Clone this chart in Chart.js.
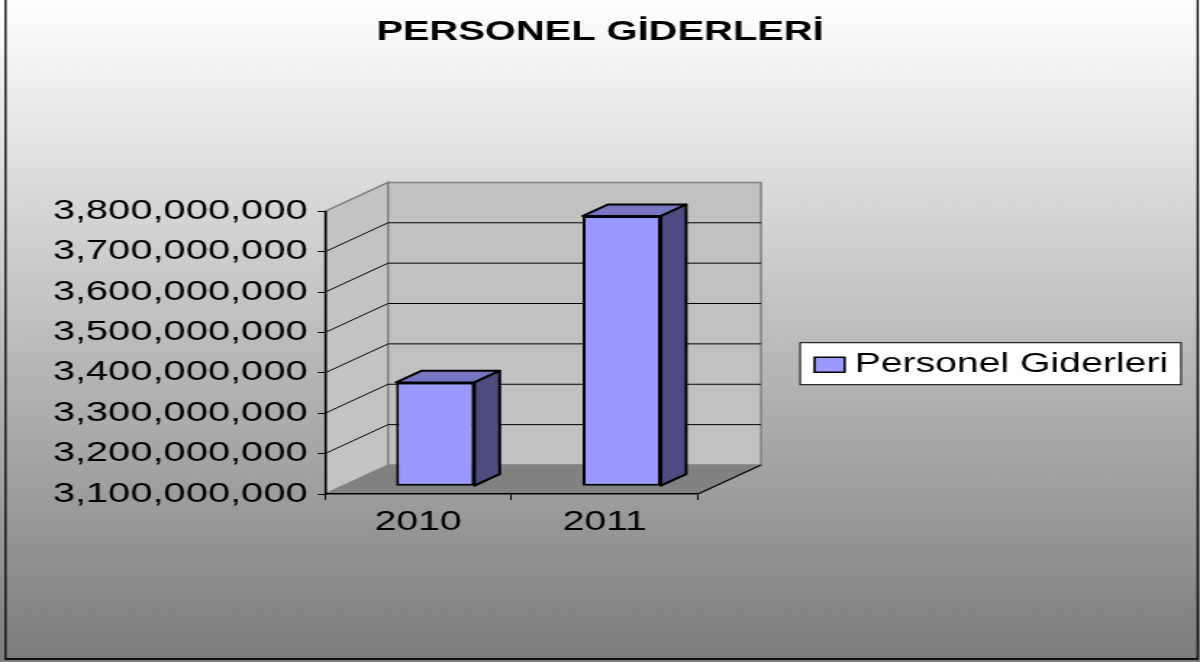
<!DOCTYPE html>
<html>
<head>
<meta charset="utf-8">
<script src="https://cdn.jsdelivr.net/npm/chart.js@4.4.1/dist/chart.umd.min.js"></script>
<style>
  html, body { margin: 0; padding: 0; background: #fff; overflow: hidden; }
  /* the original picture is stretched sideways, so draw narrow and stretch */
  #wrap { width: 828px; height: 662px; transform: scaleX(1.449275); transform-origin: 0 0; }
</style>
</head>
<body>
<div id="wrap"><canvas id="chart" width="828" height="662"></canvas></div>
<script>
const years = ['2010', '2011'];
const personelGiderleri = [3357000000, 3769000000];
const yMin = 3100000000;
const yMax = 3800000000;
const yStep = 100000000;
const chartTitle = 'PERSONEL GİDERLERİ';
const seriesLabel = 'Personel Giderleri';

// 3D look: walls go back by DX/DY, bars sit from 27% to 67% of that depth
const DX = 43.5, DY = 29;
const BAR_FRONT = 0.27, BAR_DEPTH = 0.4;
const FONT = '"Liberation Sans", Arial, sans-serif';

function poly(ctx, pts, fill, stroke, lw) {
    ctx.beginPath();
    ctx.moveTo(pts[0][0], pts[0][1]);
    for (let i = 1; i < pts.length; i++) ctx.lineTo(pts[i][0], pts[i][1]);
    ctx.closePath();
    if (fill) { ctx.fillStyle = fill; ctx.fill(); }
    if (stroke) { ctx.strokeStyle = stroke; ctx.lineWidth = lw || 1; ctx.stroke(); }
}

const scene3d = {
    id: 'scene3d',
    afterLayout(chart) {
        // keep the title centred over the whole picture
        chart.titleBlock.left = 0;
        chart.titleBlock.right = chart.width;
    },
    beforeDraw(chart) {
        const {ctx, chartArea: a, scales: {y}} = chart;
        const L = a.left, R = a.right, T = a.top, B = a.bottom;
        ctx.save();
        const g = ctx.createLinearGradient(0, 0, 0, chart.height);
        g.addColorStop(0, '#ffffff');
        g.addColorStop(1, '#7c7c7c');
        ctx.fillStyle = g;
        ctx.fillRect(0, 0, chart.width, chart.height);

        // outer frame (left, right, bottom)
        ctx.strokeStyle = '#111';
        ctx.lineWidth = 1.4;
        ctx.beginPath();
        ctx.moveTo(3.8, 0); ctx.lineTo(3.8, 659);
        ctx.moveTo(826.4, 0); ctx.lineTo(826.4, 659);
        ctx.stroke();
        ctx.lineWidth = 2;
        ctx.beginPath();
        ctx.moveTo(3, 659); ctx.lineTo(827, 659);
        ctx.stroke();

        // walls and floor
        poly(ctx, [[L, T], [L + DX, T - DY], [L + DX, B - DY], [L, B]], '#c3c3c3', '#808080', 1.5);
        poly(ctx, [[L + DX, T - DY], [R + DX, T - DY], [R + DX, B - DY], [L + DX, B - DY]], '#c0c0c0', '#808080', 1.5);
        poly(ctx, [[L, B], [R, B], [R + DX, B - DY], [L + DX, B - DY]], '#818181', null);
        ctx.strokeStyle = '#000';
        ctx.lineWidth = 1.2;
        ctx.beginPath();
        ctx.moveTo(R, B); ctx.lineTo(R + DX, B - DY);
        ctx.stroke();

        // grid lines on the walls
        ctx.strokeStyle = '#000';
        ctx.lineWidth = 1;
        y.ticks.forEach(t => {
            if (t.value <= yMin || t.value >= yMax) return;
            const py = y.getPixelForValue(t.value);
            ctx.beginPath();
            ctx.moveTo(L, py);
            ctx.lineTo(L + DX, py - DY);
            ctx.lineTo(R + DX, py - DY);
            ctx.stroke();
        });
        ctx.restore();
    },
    beforeDatasetsDraw(chart) {
        chart.ctx.save();
        chart.ctx.translate(BAR_FRONT * DX, -BAR_FRONT * DY);
    },
    afterDatasetsDraw(chart) {
        const ctx = chart.ctx;
        ctx.restore();
        const ox = BAR_FRONT * DX, oy = -BAR_FRONT * DY;
        const dx = BAR_DEPTH * DX, dy = -BAR_DEPTH * DY;
        ctx.save();
        ctx.lineJoin = 'round';
        chart.getDatasetMeta(0).data.forEach(bar => {
            const {x, y, base, width} = bar.getProps(['x', 'y', 'base', 'width'], true);
            const l = x - width / 2 + ox, r = x + width / 2 + ox;
            const t = y + oy, b = Math.min(base, chart.chartArea.bottom) + oy;
            poly(ctx, [[l, t], [l + dx, t + dy], [r + dx, t + dy], [r, t]], '#7676c2', '#000', 2);
            poly(ctx, [[r, t], [r + dx, t + dy], [r + dx, b + dy], [r, b]], '#4c4c80', '#000', 2);
        });
        ctx.restore();
    },
    afterDraw(chart) {
        // legend box on the right
        const {ctx, chartArea: a} = chart;
        const ds = chart.data.datasets[0];
        ctx.save();
        ctx.font = '27px ' + FONT;
        const tw = ctx.measureText(ds.label).width;
        const bx = a.right + 70.5;
        const cy = (a.top + a.bottom) / 2 + 11;
        const bw = 10 + 20.7 + 7 + tw + 9;
        ctx.fillStyle = '#fff';
        ctx.fillRect(bx, cy - 21, bw, 42);
        ctx.strokeStyle = '#000';
        ctx.lineWidth = 1;
        ctx.strokeRect(bx, cy - 21, bw, 42);
        poly(ctx, [[bx + 10, cy - 6.5], [bx + 30.7, cy - 6.5], [bx + 30.7, cy + 8.5], [bx + 10, cy + 8.5]], ds.backgroundColor, '#000', 1.6);
        ctx.fillStyle = '#000';
        ctx.textBaseline = 'middle';
        ctx.fillText(ds.label, bx + 37.7, cy + 1);
        ctx.restore();
    }
};

new Chart(document.getElementById('chart'), {
    type: 'bar',
    data: {
        labels: years,
        datasets: [{
            label: seriesLabel,
            data: personelGiderleri,
            base: yMin,
            backgroundColor: '#9999ff',
            borderColor: '#000',
            borderWidth: 2,
            borderSkipped: false,
            barPercentage: 0.42,
            categoryPercentage: 1
        }]
    },
    options: {
        responsive: false,
        animation: false,
        devicePixelRatio: 1,
        layout: { padding: { left: 10, right: 346.4, top: 0, bottom: 128 } },
        plugins: {
            legend: { display: false },
            tooltip: { enabled: false },
            title: {
                display: true,
                text: chartTitle,
                color: '#000',
                font: { family: FONT, size: 27.5, weight: 'bold' },
                padding: { top: 16, bottom: 162.4 }
            }
        },
        scales: {
            x: {
                grid: { offset: true, drawOnChartArea: false, tickLength: 6, color: '#000' },
                border: { color: '#000', width: 1.5 },
                ticks: { color: '#000', padding: 6, font: { family: FONT, size: 27 } },
                afterFit: s => { s.height = 40; }
            },
            y: {
                min: yMin,
                max: yMax,
                grid: { drawOnChartArea: false, tickLength: 5, color: '#000' },
                border: { color: '#000', width: 1.5 },
                ticks: {
                    stepSize: yStep,
                    color: '#000',
                    padding: 7,
                    font: { family: FONT, size: 27.5 },
                    callback: v => Number(v).toLocaleString('en-US')
                },
                afterFit: s => { s.width = 214.25; }
            }
        }
    },
    plugins: [scene3d]
});
</script>
</body>
</html>
